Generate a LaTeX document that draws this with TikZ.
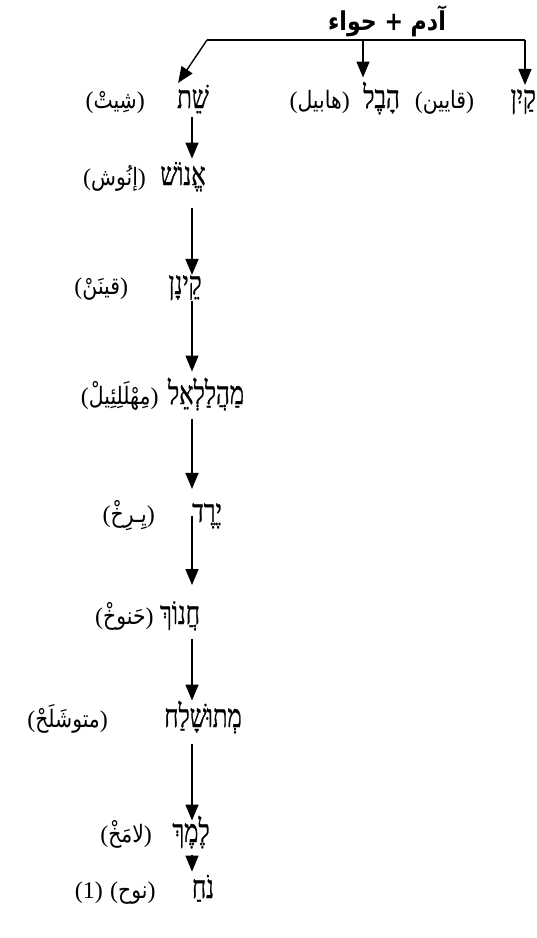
\documentclass[tikz,border=0pt]{standalone}
\usepackage{fontspec}
\setmainfont{Liberation Serif}
\newfontfamily\hebfont[Script=Hebrew, FakeStretch=0.75, FakeBold=0.8]{Liberation Serif}
\newfontfamily\arabfont[Script=Arabic, FakeStretch=0.85]{DejaVu Sans}
\usetikzlibrary{positioning,arrows.meta}
\TeXXeTstate=1

\newcommand{\heb}[1]{{\hebfont\beginR #1\endR}}
\newcommand{\arb}[1]{{\arabfont\beginR #1\endR}}

\begin{document}
\begin{tikzpicture}[x=1pt, y=-1pt, >={Triangle[length=16pt,width=13pt]},
    hebname/.style={inner sep=0pt, font=\fontsize{32}{36}\selectfont},
    gloss/.style={inner sep=0pt, font=\fontsize{24}{28}\selectfont},
    branch/.style={line width=1.4pt},
    arrow/.style={->, line width=1.4pt, shorten <=3pt, shorten >=3pt}]

\useasboundingbox (0,0) rectangle (537,938);

\node [gloss, font=\fontsize{26}{30}\selectfont\bfseries] (parents) at (387,21) {\arb{آدم + حواء}};

% children of Adam
\node [hebname, anchor=base east] (kayin) at (536,108) {\heb{קַיִן}};
\node [gloss, base left=36pt of kayin] (kayin-ar) {(\arb{قايين})};
\node [hebname, anchor=base west] (abel) at (363,108) {\heb{הָבֶל}};
\node [gloss, base left=13pt of abel] (abel-ar) {(\arb{هابيل})};
\node [hebname, anchor=base] (shet) at (193,108) {\heb{שֵׁת}};
\node [gloss, base left=32pt of shet] (shet-ar) {(\arb{شِيتْ})};

% line down to Noah
\node [hebname, anchor=base] (enosh) at (183,185) {\heb{אֱנוֹשׁ}};
\node [gloss, base left=14pt of enosh] (enosh-ar) {(\arb{إنُوش})};
\node [hebname, anchor=base] (kenan) at (185,294) {\heb{קֵינָן}};
\node [gloss, base left=40pt of kenan] (kenan-ar) {(\arb{قينَنْ})};
\node [hebname, anchor=base] (mahalalel) at (206,404) {\heb{מַהֲלַלְאֵל}};
\node [gloss, base left=9pt of mahalalel] (mahalalel-ar) {(\arb{مِهْلَلِئِيلْ})};
\node [hebname, anchor=base] (yered) at (207,522) {\heb{יֶרֶד}};
\node [gloss, base left=37pt of yered] (yered-ar) {(\arb{يِـرِخْ})};
\node [hebname, anchor=base] (hanokh) at (180,624) {\heb{חֲנוֹךְ}};
\node [gloss, base left=6pt of hanokh] (hanokh-ar) {(\arb{حَنوخْ})};
\node [hebname, anchor=base] (metushelah) at (203,727) {\heb{מְתוּשָׁלַח}};
\node [gloss, base left=56pt of metushelah] (metushelah-ar) {(\arb{متوشَلَحْ})};
\node [hebname, anchor=base] (lemekh) at (191,842) {\heb{לֶמֶךְ}};
\node [gloss, base left=20pt of lemekh] (lemekh-ar) {(\arb{لامَخْ})};
\node [hebname, anchor=base] (noah) at (203,898) {\heb{נֹחַ}};
\node [gloss, base left=36pt of noah] (noah-ar) {(\arb{نوح})};
\node [gloss, base left=7pt of noah-ar] (note) {(1)};

\coordinate (bar-w) at (207,40);
\coordinate (bar-e) at (525,40);
\coordinate (spine) at (192,0);

\draw [branch] (bar-w) -- (bar-e);
\draw [arrow, shorten <=0pt, shorten >=4pt] (bar-e) -- (bar-e |- kayin.north);
\draw [arrow, shorten <=0pt, shorten >=4pt] (abel.north west |- bar-w) -- (abel.north west);
\draw [arrow, shorten <=0pt, shorten >=2pt] (bar-w) -- (shet.north west);

\draw [arrow] (shet.south -| spine) -- (enosh.north -| spine);
\draw [arrow, shorten <=16pt, shorten >=0pt] (enosh.south -| spine) -- (kenan.north -| spine);
\draw [arrow, shorten <=0pt, shorten >=6pt] (kenan.south -| spine) -- (mahalalel.north -| spine);
\draw [arrow, shorten <=8pt, shorten >=14pt] (mahalalel.south -| spine) -- (yered.north -| spine);
\draw [arrow, shorten <=0pt, shorten >=16pt] (yered.center -| spine) -- (hanokh.north -| spine);
\draw [arrow, shorten <=8pt, shorten >=0pt] (hanokh.south -| spine) -- (metushelah.north -| spine);
\draw [arrow, shorten <=10pt, shorten >=-5pt] (metushelah.south -| spine) -- (lemekh.north -| spine);
\draw [arrow, shorten <=6pt] (lemekh.south -| spine) -- (noah.north -| spine);

\end{tikzpicture}
\end{document}
